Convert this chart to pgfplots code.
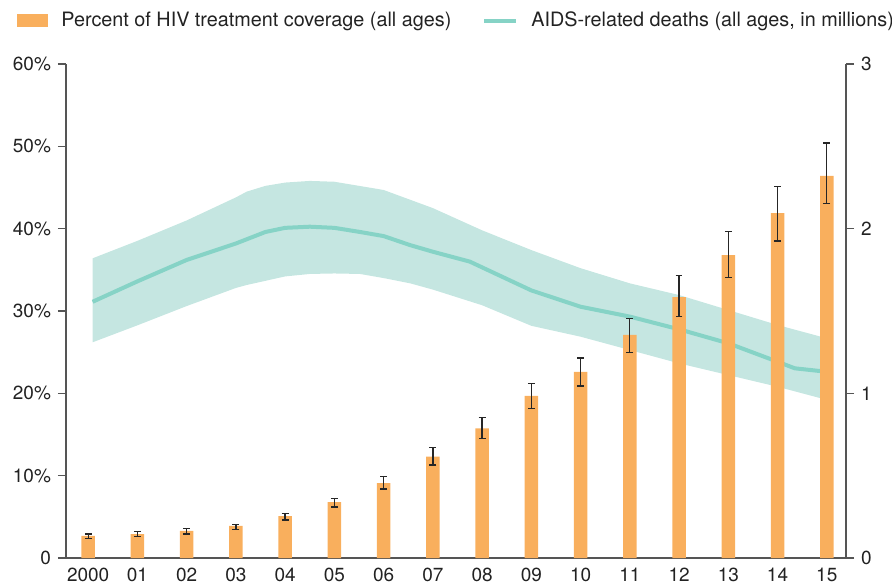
\documentclass[border=0pt]{standalone}
\usepackage{fontspec}
\setmainfont{TeX Gyre Heros}
\usepackage{pgfplots}
\pgfplotsset{compat=1.18}
\definecolor{barc}{HTML}{F9AF5D}
\definecolor{linec}{HTML}{86D3C6}
\definecolor{bandc}{HTML}{C5E6E1}
\definecolor{axc}{HTML}{555555}
\definecolor{txtc}{HTML}{222222}

\pgfplotstableread{
x y ep em
0 2.7 0.2 0.3
1 2.9 0.3 0.3
2 3.3 0.3 0.4
3 3.9 0.2 0.4
4 5.1 0.3 0.5
5 6.8 0.4 0.6
6 9.1 0.8 0.7
7 12.3 1.1 1.0
8 15.75 1.35 1.25
9 19.7 1.5 1.5
10 22.6 1.7 1.7
11 27.1 2.0 2.1
12 31.7 2.6 2.4
13 36.8 2.9 2.7
14 41.9 3.2 3.4
15 46.4 4.0 3.3
}\coverage

\pgfplotstableread{
x y
0.09 1.556
1 1.68
2 1.81
3 1.91
3.6 1.98
4 2.005
4.5 2.012
5 2.005
5.52 1.98
6 1.955
6.54 1.90
7 1.86
7.75 1.80
8 1.765
9 1.625
10 1.526
11 1.466
12 1.389
13 1.304
14 1.192
14.35 1.152
15 1.131
}\deaths

\pgfplotstableread{
x y
0.09 1.82
1 1.926
2 2.05
3 2.19
3.22 2.225
3.6 2.26
4 2.28
4.5 2.29
5 2.285
6 2.235
7 2.125
8 1.99
9 1.87
10 1.76
11 1.668
12 1.597
13 1.506
14 1.415
14.88 1.344
14.88 0.97
14 1.04
13 1.111
12 1.182
11 1.263
10 1.344
9 1.41
8 1.535
7 1.63
6.54 1.668
6 1.70
5.52 1.725
5 1.728
4.5 1.725
4 1.71
3.22 1.658
3 1.64
2 1.53
1 1.413
0.09 1.31
}\band

\begin{document}
\begin{tikzpicture}
\path[use as bounding box] (-33pt,-13.5pt) rectangle (413pt,279pt);
\pgfplotsset{base/.style={
  width=390pt, height=247pt, scale only axis,
  at={(0,0)}, anchor=south west,
  xmin=-0.45, xmax=15.39,
  axis line style={axc, line width=0.6pt},
  tick style={axc, line width=0.6pt},
  tick align=outside, major tick length=4pt,
  tick label style={font=\fontsize{9.5}{11}\selectfont, text=txtc},
  /pgf/number format/assume math mode=true,
}}
% right axis: band and line
\begin{axis}[base,
  ymin=0, ymax=3,
  axis y line*=right, axis x line=none,
  ytick={0,1,2,3},
]
\addplot[fill=bandc, draw=none] table {\band} -- cycle;
\addplot[linec, line width=2pt, line join=round, no markers] table {\deaths};
\end{axis}
% left axis: bars
\begin{axis}[base,
  ymin=0, ymax=60,
  axis y line*=left, axis x line*=bottom,
  ytick={0,10,20,30,40,50,60},
  yticklabels={0,10\%,20\%,30\%,40\%,50\%,60\%},
  xtick={0,...,15},
  xticklabels={2000,01,02,03,04,05,06,07,08,09,10,11,12,13,14,15},
  xticklabel style={yshift=2.5pt},
  x tick style={draw=none},
  legend columns=2,
  legend style={draw=none, fill=none, inner sep=0pt,
    at={(axis description cs:-0.0628,1.088)}, anchor=west,
    font=\fontsize{9.9}{11.5}\selectfont, text=txtc,
    nodes={inner sep=0pt, anchor=west},
    /tikz/every odd column/.append style={column sep=6.5pt},
    /tikz/every even column/.append style={column sep=15.5pt}},
]
\addplot[ybar, bar width=0.275, fill=barc, draw=none,
  legend image code/.code={\fill[barc] (0pt,-3.25pt) rectangle (15.5pt,3.25pt);},
  error bars/.cd, y dir=both, y explicit,
  error bar style={line width=0.65pt, black!85},
  error mark options={rotate=90, mark size=1.7pt, line width=0.65pt, black!85}]
  table[x=x, y=y, y error plus=ep, y error minus=em] {\coverage};
\addlegendentry{Percent of HIV treatment coverage (all ages)}
\addlegendimage{legend image code/.code={\draw[linec, line width=2pt] (0pt,0pt) -- (16pt,0pt);}}
\addlegendentry{AIDS-related deaths (all ages, in millions)}
\end{axis}
\end{tikzpicture}
\end{document}
